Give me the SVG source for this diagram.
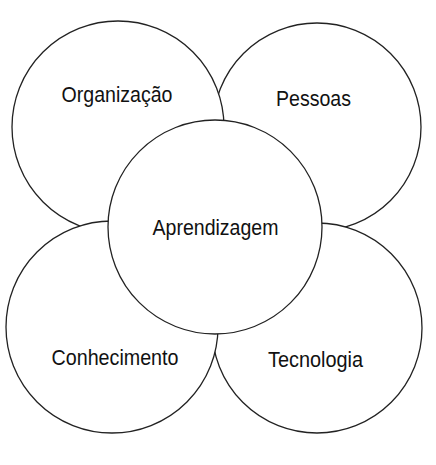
<svg xmlns="http://www.w3.org/2000/svg" width="436" height="465" viewBox="0 0 436 465">
<style>
.c{fill:#fff;stroke:#222;stroke-width:1.3}
.t{font-family:"Liberation Sans",Arial,sans-serif;font-size:22px;fill:#111;text-anchor:middle}
</style>
<rect width="436" height="465" fill="#fff"/>
<g id="pessoas"><circle class="c" cx="317" cy="127" r="104"/><text class="t" x="313.5" y="106" textLength="75" lengthAdjust="spacingAndGlyphs">Pessoas</text></g>
<g id="organizacao"><circle class="c" cx="118" cy="127" r="106"/><text class="t" x="117" y="102" textLength="111" lengthAdjust="spacingAndGlyphs">Organização</text></g>
<g id="tecnologia"><circle class="c" cx="317" cy="328" r="105"/><text class="t" x="315.5" y="367" textLength="95" lengthAdjust="spacingAndGlyphs">Tecnologia</text></g>
<g id="conhecimento"><circle class="c" cx="112" cy="327" r="106"/><text class="t" x="115" y="365" textLength="127" lengthAdjust="spacingAndGlyphs">Conhecimento</text></g>
<g id="aprendizagem"><circle class="c" cx="215" cy="227" r="107"/><text class="t" x="215.5" y="235" textLength="126" lengthAdjust="spacingAndGlyphs">Aprendizagem</text></g>
<g id="connectors"/>
</svg>
